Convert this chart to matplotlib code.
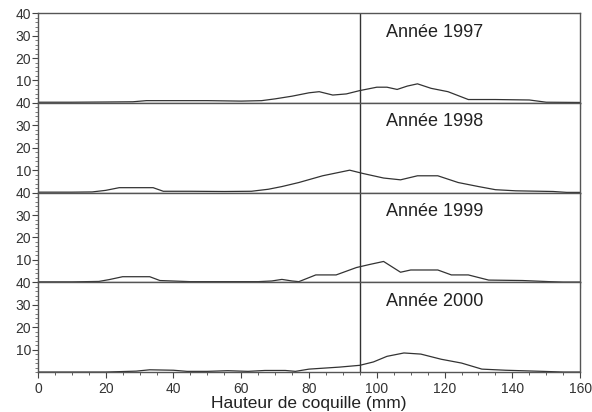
import numpy as np
import matplotlib.pyplot as plt
from matplotlib.ticker import MultipleLocator

plt.rcParams['font.family'] = ['Liberation Sans', 'DejaVu Sans']

# Size-frequency curves per year (shell height in mm, % frequency)
years = ['1997', '1998', '1999', '2000']

x_1997 = [0, 10, 20, 28, 32, 40, 50, 60, 66, 70, 75, 80, 83, 87, 91, 95, 100, 103, 106, 109, 112, 116, 121, 127, 135, 145, 150, 160]
y_1997 = [0.3, 0.3, 0.4, 0.5, 1, 1, 1, 0.8, 1, 1.8, 3, 4.5, 5, 3.5, 4, 5.5, 7, 7, 6, 7.5, 8.5, 6.5, 5, 1.5, 1.5, 1.3, 0.3, 0.2]

x_1998 = [0, 10, 16, 20, 24, 34, 37, 45, 55, 63, 68, 72, 77, 84, 92, 96, 102, 107, 112, 118, 124, 130, 135, 141, 152, 156, 160]
y_1998 = [0.2, 0.2, 0.3, 1, 2.2, 2.2, 0.6, 0.6, 0.5, 0.6, 1.5, 2.7, 4.5, 7.5, 10, 8.5, 6.5, 5.7, 7.5, 7.5, 4.5, 2.7, 1.3, 0.8, 0.5, 0.1, 0.1]

x_1999 = [0, 10, 18, 21, 25, 33, 36, 45, 55, 65, 69, 72, 75, 77, 82, 88, 94, 98, 102, 107, 110, 118, 122, 127, 133, 143, 151, 155, 160]
y_1999 = [0.2, 0.2, 0.4, 1.2, 2.5, 2.5, 0.8, 0.3, 0.3, 0.3, 0.6, 1.3, 0.6, 0.3, 3.3, 3.3, 6.6, 8, 9.3, 4.5, 5.5, 5.5, 3.3, 3.3, 1, 0.8, 0.3, 0.1, 0.1]

x_2000 = [0, 10, 20, 29, 33, 40, 44, 50, 56, 62, 67, 73, 76, 80, 89, 95, 99, 103, 108, 113, 119, 125, 131, 138, 149, 155, 160]
y_2000 = [0, 0, 0, 0.4, 1, 0.8, 0.3, 0.3, 0.6, 0.3, 0.7, 0.7, 0.3, 1.3, 2.2, 3, 4.5, 7, 8.5, 8, 5.7, 4, 1.3, 0.8, 0.3, 0, 0]

xs = [x_1997, x_1998, x_1999, x_2000]
ys = [y_1997, y_1998, y_1999, y_2000]

cutoff = 95  # vertical reference line (mm)

fig, axes = plt.subplots(4, 1, sharex=True, figsize=(5.92, 4.12), dpi=100)
fig.subplots_adjust(left=0.064, right=0.98, top=0.968, bottom=0.097, hspace=0)

line_col = '#333333'
for i, ax in enumerate(axes):
    ax.plot(xs[i], ys[i], color=line_col, lw=0.9)
    ax.axvline(cutoff, color=line_col, lw=1.0)
    ax.text(117, 31.5, f'Année {years[i]}', ha='center', va='center',
            fontsize=13, color='#222222')
    ax.set_xlim(0, 160)
    ax.set_ylim(0, 40)
    ax.set_yticks([10, 20, 30, 40])
    ax.yaxis.set_minor_locator(MultipleLocator(2))
    ax.xaxis.set_major_locator(MultipleLocator(20))
    ax.xaxis.set_minor_locator(MultipleLocator(5))
    ax.tick_params(axis='y', which='major', direction='out', length=4,
                   labelsize=10, colors='#444444', labelcolor='#333333', pad=1)
    ax.tick_params(axis='y', which='minor', direction='out', length=2,
                   colors='#666666')
    ax.tick_params(axis='x', which='both', direction='out', colors='#444444',
                   labelcolor='#333333', labelsize=10, pad=3)
    ax.tick_params(axis='x', which='major', length=4)
    ax.tick_params(axis='x', which='minor', length=2)
    for s in ax.spines.values():
        s.set_color('#555555')
        s.set_linewidth(1.0)

axes[-1].set_xlabel('Hauteur de coquille (mm)', fontsize=12.5, labelpad=0,
                    color='#222222')

fig.savefig('out.png', dpi=100)
